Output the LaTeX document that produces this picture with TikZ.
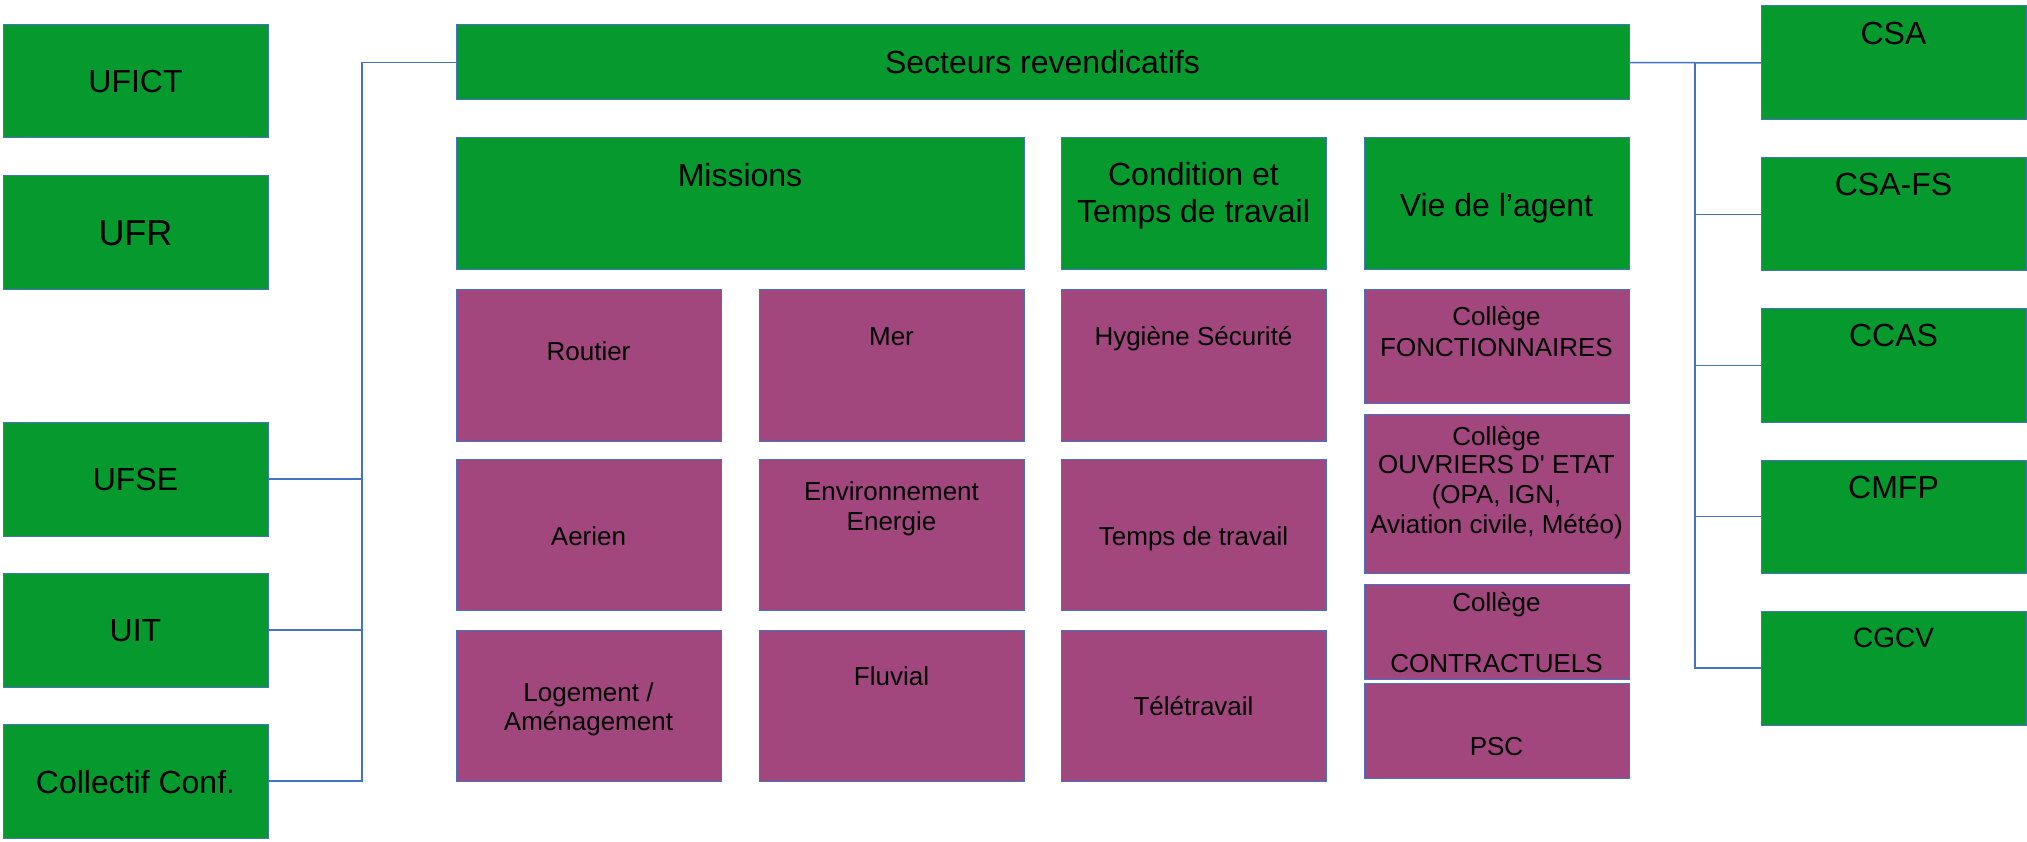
\documentclass[tikz,border=0pt]{standalone}
\usepackage{fontspec}
\setmainfont{Liberation Sans}
\newfontfamily\straightfont{Liberation Sans}[Ligatures=TeXOff]
\definecolor{gfill}{RGB}{6,154,46}
\definecolor{pfill}{RGB}{161,71,126}
\definecolor{edge}{RGB}{68,114,196}
\tikzset{
  box/.style={draw=edge, line width=1pt, inner sep=0pt, outer sep=0pt, rectangle},
  gbox/.style={box, fill=gfill},
  pbox/.style={box, fill=pfill},
  conn/.style={draw=edge, line width=1.5pt},
  big/.style={anchor=base, inner sep=0pt, font=\fontsize{32}{37}\selectfont},
  small/.style={anchor=base, inner sep=0pt, font=\fontsize{26}{30}\selectfont},
}
\begin{document}
\begin{tikzpicture}[x=1pt,y=-1pt]
\useasboundingbox (0,0) rectangle (2027,842);
% left column
\node[gbox, minimum width=265, minimum height=113] (ufict) at (135.5,81.5) {};
\node[gbox, minimum width=265, minimum height=114] (ufr) at (135.5,233) {};
\node[gbox, minimum width=265, minimum height=114] (ufse) at (135.5,479) {};
\node[gbox, minimum width=265, minimum height=114] (uit) at (135.5,630) {};
\node[gbox, minimum width=265, minimum height=114] (coll) at (135.5,781) {};
\node[big] (tufict) at (135.5,93) {UFICT};
\node[big, font=\fontsize{36}{41}\selectfont] (tufr) at (135.5,246) {UFR};
\node[big] (tufse) at (135.5,490) {UFSE};
\node[big] (tuit) at (135.5,641.5) {UIT};
\node[big] (tcoll) at (135.5,793) {Collectif Conf.};
% centre
\node[gbox, minimum width=1173, minimum height=75] (sect) at (1042.5,62.5) {};
\node[big] (tsect) at (1042.5,74) {Secteurs revendicatifs};
\node[gbox, minimum width=568, minimum height=132] (miss) at (740,204) {};
\node[gbox, minimum width=265, minimum height=132] (cond) at (1193.5,204) {};
\node[gbox, minimum width=265, minimum height=132] (vie) at (1496.5,204) {};
\node[big] (tmiss) at (740,187) {Missions};
\node[big] (tcond1) at (1193.5,185.5) {Condition et};
\node[big] (tcond2) at (1193.5,222.5) {Temps de travail};
\node[big] (tvie) at (1496.5,217) {Vie de l’agent};
% purple grid
\node[pbox, minimum width=265, minimum height=151] (rout) at (588.5,365.5) {};
\node[pbox, minimum width=265, minimum height=151] (mer) at (891.5,365.5) {};
\node[pbox, minimum width=265, minimum height=151] (hyg) at (1193.5,365.5) {};
\node[pbox, minimum width=265, minimum height=151] (aer) at (588.5,534.5) {};
\node[pbox, minimum width=265, minimum height=151] (env) at (891.5,534.5) {};
\node[pbox, minimum width=265, minimum height=151] (temps) at (1193.5,534.5) {};
\node[pbox, minimum width=265, minimum height=151] (loge) at (588.5,705.5) {};
\node[pbox, minimum width=265, minimum height=151] (fluv) at (891.5,705.5) {};
\node[pbox, minimum width=265, minimum height=151] (tele) at (1193.5,705.5) {};
\node[small] (trout) at (588.5,360) {Routier};
\node[small] (tmer) at (891.5,345) {Mer};
\node[small] (thyg) at (1193.5,345) {Hygiène Sécurité};
\node[small] (taer) at (588.5,545) {Aerien};
\node[small] (tenv1) at (891.5,500) {Environnement};
\node[small] (tenv2) at (891.5,530) {Energie};
\node[small] (ttemps) at (1193.5,545) {Temps de travail};
\node[small] (tloge1) at (588.5,701) {Logement /};
\node[small] (tloge2) at (588.5,730) {Aménagement};
\node[small] (tfluv) at (891.5,685) {Fluvial};
\node[small] (ttele) at (1193.5,715) {Télétravail};
% vie column
\node[pbox, minimum width=265, minimum height=113] (fonc) at (1496.5,346.5) {};
\node[pbox, minimum width=265, minimum height=159] (ouvr) at (1496.5,493.5) {};
\node[pbox, minimum width=265, minimum height=95] (contr) at (1496.5,631.5) {};
\node[pbox, minimum width=265, minimum height=95] (psc) at (1496.5,730.5) {};
\node[small] (tfonc1) at (1496.5,326) {Collège};
\node[small] (tfonc2) at (1496.5,356) {FONCTIONNAIRES};
\node[small] (touvr1) at (1496.5,445) {Collège};
\node[small, font=\fontsize{26}{30}\straightfont] (touvr2) at (1496.5,473) {OUVRIERS D' ETAT};
\node[small] (touvr3) at (1496.5,503) {(OPA, IGN,};
\node[small] (touvr4) at (1496.5,533) {Aviation civile, Météo)};
\node[small] (tcontr1) at (1496.5,611) {Collège};
\node[small] (tcontr2) at (1496.5,672) {CONTRACTUELS};
\node[small] (tpsc) at (1496.5,755) {PSC};
% right column
\node[gbox, minimum width=265, minimum height=114] (csa) at (1893.5,63) {};
\node[gbox, minimum width=265, minimum height=113] (csafs) at (1893.5,214.5) {};
\node[gbox, minimum width=265, minimum height=113] (ccas) at (1893.5,365.5) {};
\node[gbox, minimum width=265, minimum height=113] (cmfp) at (1893.5,516.5) {};
\node[gbox, minimum width=265, minimum height=114] (cgcv) at (1893.5,668) {};
\node[big] (tcsa) at (1893.5,45) {CSA};
\node[big] (tcsafs) at (1893.5,196) {CSA-FS};
\node[big] (tccas) at (1893.5,347) {CCAS};
\node[big] (tcmfp) at (1893.5,498) {CMFP};
\node[big, font=\fontsize{28}{32}\selectfont] (tcgcv) at (1893.5,647) {CGCV};
% connectors
\coordinate (lb) at (362,62.5);
\coordinate (rb) at (1695,62.5);
\draw[conn] (sect.west) -- (lb) |- (coll.east);
\draw[conn] (ufse.east) -- (ufse.east -| lb);
\draw[conn] (uit.east) -- (uit.east -| lb);
\draw[conn] (sect.east) -- (csa.west);
\draw[conn] (rb) |- (cgcv.west);
\draw[conn] (csafs.west -| rb) -- (csafs.west);
\draw[conn] (ccas.west -| rb) -- (ccas.west);
\draw[conn] (cmfp.west -| rb) -- (cmfp.west);
\end{tikzpicture}
\end{document}
